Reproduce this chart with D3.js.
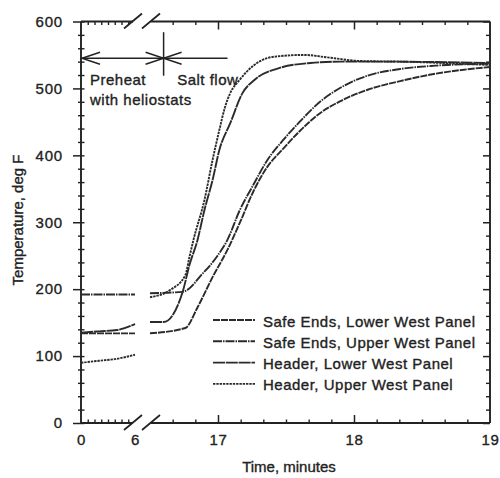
<!DOCTYPE html>
<html>
<head>
<meta charset="utf-8">
<script src="https://cdn.jsdelivr.net/npm/d3@7"></script>
<style>
  body { margin: 0; background: #fff; }
  svg text { font-family: "Liberation Sans", Arial, Helvetica, sans-serif; fill: #222; stroke: #222; stroke-width: 0.35px; }
</style>
</head>
<body>
<svg id="chart"></svg>
<script>
// Series names (legend order)
const seriesNames = [
  "Safe Ends, Lower West Panel",
  "Safe Ends, Upper West Panel",
  "Header, Lower West Panel",
  "Header, Upper West Panel"
];

// Preheat part (minutes 0-6)
const preheatTime = [0, 2, 4, 6];
const safeEndsLowerPre = [134, 134, 134, 134];
const safeEndsUpperPre = [192, 192, 192, 192];
const headerLowerPre = [135, 137, 139, 148];
const headerUpperPre = [90, 93, 96, 102];

// Salt flow part (minutes 16.5-19)
const safeEndsLowerTime = [16.5, 16.76, 16.85, 16.96, 17.07, 17.16, 17.26, 17.36, 17.48, 17.6, 17.75, 17.9, 18.1, 18.34, 18.6, 19];
const safeEndsLowerSalt = [134, 142, 173, 218, 259, 299, 346, 382, 410, 436, 463, 481, 498, 511, 522, 532];

const safeEndsUpperTime = [16.5, 16.74, 16.89, 16.99, 17.07, 17.16, 17.26, 17.36, 17.48, 17.6, 17.75, 17.9, 18.1, 18.34, 18.6, 19];
const safeEndsUpperSalt = [194, 196, 224, 248, 274, 318, 356, 392, 423, 450, 480, 501, 519, 529, 534, 537];

const headerLowerTime = [16.5, 16.6, 16.74, 16.79, 16.85, 16.9, 16.96, 17.01, 17.09, 17.18, 17.27, 17.46, 17.68, 17.9, 18.26, 19];
const headerLowerSalt = [151, 151, 196, 236, 274, 318, 363, 408, 448, 493, 513, 531, 538, 540, 540, 538];

const headerUpperTime = [16.5, 16.65, 16.76, 16.79, 16.82, 16.9, 16.96, 17.01, 17.05, 17.09, 17.16, 17.26, 17.4, 17.63, 17.82, 18.04, 18.34, 19];
const headerUpperSalt = [188, 199, 221, 248, 274, 333, 393, 438, 471, 493, 513, 534, 547, 550, 546, 541, 540, 535];

// Tick labels
const xTickLabels = [0, 6, 17, 18, 19];
const yTickLabels = [0, 100, 200, 300, 400, 500, 600];

// Dimensions
const width = 500;
const height = 478;
const margin = { top: 21.5, right: 10, bottom: 55, left: 81 };
const innerBottom = height - margin.bottom; // 423
const innerRight = width - margin.right;    // 490

const svg = d3.select("#chart")
  .attr("width", width)
  .attr("height", height);

// Broken time axis: 0-6 then 16.5-19
const x = d3.scaleLinear()
  .domain([0, 6, 16.5, 19])
  .range([margin.left, 135, 150, innerRight]);

const y = d3.scaleLinear()
  .domain([0, 600])
  .range([innerBottom, margin.top]);

const ink = "#222";
const font = "Liberation Sans, Arial, Helvetica, sans-serif";

// Minor tick values
const xMinorLeft = d3.range(0.75, 5.5, 0.75);
const xMinorRight = d3.range(0, 16).map(i => 16.5 + i / 6).filter(t => t > 16.55 && Math.abs(t - 17) > 0.01 && Math.abs(t - 18) > 0.01 && t < 18.95);
const xMajor = [17, 18];
const yMinor = d3.range(20, 600, 20).filter(v => v % 100 !== 0);
const yMajor = yTickLabels;

function styleTicks(g, w) {
  g.select(".domain").remove();
  g.selectAll(".tick line").attr("stroke", ink).attr("stroke-width", w);
  g.selectAll("text").remove();
}

// Bottom ticks (pointing up)
svg.append("g").attr("transform", `translate(0,${innerBottom})`)
  .call(d3.axisBottom(x).tickValues(xMinorLeft.concat(xMinorRight)).tickSize(-3.5))
  .call(g => styleTicks(g, 1.4));
svg.append("g").attr("transform", `translate(0,${innerBottom})`)
  .call(d3.axisBottom(x).tickValues(xMajor).tickSize(-8))
  .call(g => styleTicks(g, 1.5));

// Top ticks (pointing down)
svg.append("g").attr("transform", `translate(0,${margin.top})`)
  .call(d3.axisTop(x).tickValues(xMinorLeft.concat(xMinorRight)).tickSize(-3.5))
  .call(g => styleTicks(g, 1.4));
svg.append("g").attr("transform", `translate(0,${margin.top})`)
  .call(d3.axisTop(x).tickValues(xMajor).tickSize(-8))
  .call(g => styleTicks(g, 1.5));

// Left ticks
svg.append("g").attr("transform", `translate(${margin.left},0)`)
  .call(d3.axisLeft(y).tickValues(yMinor).tickSize(3))
  .call(g => styleTicks(g, 1.4));
svg.append("g").attr("transform", `translate(${margin.left},0)`)
  .call(d3.axisRight(y).tickValues(yMinor.concat(yMajor)).tickSize(3.5))
  .call(g => styleTicks(g, 1.4));
svg.append("g").attr("transform", `translate(${margin.left},0)`)
  .call(d3.axisLeft(y).tickValues(yMajor).tickSize(8))
  .call(g => styleTicks(g, 1.5));

// Right ticks (pointing in)
svg.append("g").attr("transform", `translate(${innerRight},0)`)
  .call(d3.axisLeft(y).tickValues(yMinor).tickSize(4))
  .call(g => styleTicks(g, 1.4));
svg.append("g").attr("transform", `translate(${innerRight},0)`)
  .call(d3.axisLeft(y).tickValues(yMajor).tickSize(7))
  .call(g => styleTicks(g, 1.5));

// Frame with breaks
const breakL = x(6) - 2;
const breakR = x(16.5) + 1;
const frame = svg.append("g").attr("stroke", ink).attr("stroke-width", 1.9).attr("fill", "none");
[innerBottom, margin.top].forEach(yy => {
  frame.append("line").attr("x1", x(0)).attr("x2", breakL).attr("y1", yy).attr("y2", yy);
  frame.append("line").attr("x1", breakR).attr("x2", x(19)).attr("y1", yy).attr("y2", yy);
  [breakL, breakR].forEach(bx => {
    frame.append("line")
      .attr("x1", bx - 9).attr("y1", yy + 7)
      .attr("x2", bx + 9).attr("y2", yy - 8)
      .attr("stroke-width", 1.7);
  });
});
frame.append("line").attr("x1", x(0)).attr("x2", x(0)).attr("y1", y(0)).attr("y2", y(600));
frame.append("line").attr("x1", x(19)).attr("x2", x(19)).attr("y1", y(0)).attr("y2", y(600));

// Tick labels
svg.append("g").attr("transform", `translate(0,${innerBottom})`)
  .call(d3.axisBottom(x).tickValues(xTickLabels).tickSize(0).tickPadding(11).tickFormat(d3.format("d")))
  .call(g => g.select(".domain").remove())
  .call(g => g.selectAll("text").attr("font-size", 15).attr("font-family", font).attr("fill", ink).attr("letter-spacing", 0.6));

svg.append("g").attr("transform", `translate(${margin.left},0)`)
  .call(d3.axisLeft(y).tickValues(yTickLabels).tickSize(0).tickPadding(18))
  .call(g => g.select(".domain").remove())
  .call(g => g.selectAll("text").attr("font-size", 15).attr("font-family", font).attr("fill", ink).attr("letter-spacing", 0.8));

// Axis titles
svg.append("text")
  .attr("x", 289).attr("y", 472)
  .attr("text-anchor", "middle")
  .attr("font-size", 15)
  .text("Time, minutes");

svg.append("text")
  .attr("transform", "translate(23,220) rotate(-90)")
  .attr("text-anchor", "middle")
  .attr("font-size", 15)
  .text("Temperature, deg F");

// Annotation: preheat / salt flow arrows
const arrowT = 545;
const splitTime = 16.6;
const ann = svg.append("g").attr("stroke", ink).attr("stroke-width", 1.5).attr("fill", "none");
ann.append("line").attr("x1", x(0) + 1).attr("x2", x(17.07)).attr("y1", y(arrowT)).attr("y2", y(arrowT));
ann.append("line").attr("x1", x(splitTime)).attr("x2", x(splitTime)).attr("y1", y(584)).attr("y2", y(519));
function chevron(tipX, dir) {
  const ay = y(arrowT);
  ann.append("polyline")
    .attr("points", `${tipX + dir * 18},${ay - 6} ${tipX},${ay} ${tipX + dir * 18},${ay + 6}`);
}
chevron(x(0) + 1, 1);
chevron(x(splitTime), -1);
chevron(x(splitTime), 1);

const annText = svg.append("g").attr("font-size", 15).attr("letter-spacing", 0.5);
annText.append("text").attr("x", x(1)).attr("y", y(505)).text("Preheat");
annText.append("text").attr("x", x(1)).attr("y", y(475)).text("with heliostats");
annText.append("text").attr("x", x(16.7)).attr("y", y(505)).text("Salt flow");

// Series
const dashes = ["7,1", "9,1,1.5,1", "12,0.8", "2.4,0.9"];
const series = [
  { name: seriesNames[0], parts: [d3.zip(preheatTime, safeEndsLowerPre), d3.zip(safeEndsLowerTime, safeEndsLowerSalt)] },
  { name: seriesNames[1], parts: [d3.zip(preheatTime, safeEndsUpperPre), d3.zip(safeEndsUpperTime, safeEndsUpperSalt)] },
  { name: seriesNames[2], parts: [d3.zip(preheatTime, headerLowerPre), d3.zip(headerLowerTime, headerLowerSalt)] },
  { name: seriesNames[3], parts: [d3.zip(preheatTime, headerUpperPre), d3.zip(headerUpperTime, headerUpperSalt)] }
];

const line = d3.line()
  .x(d => x(d[0]))
  .y(d => y(d[1]))
  .curve(d3.curveMonotoneX);

const lines = svg.append("g").attr("fill", "none");
series.forEach((s, i) => {
  s.parts.forEach(part => {
    lines.append("path")
      .attr("d", line(part))
      .attr("stroke", "#2b2b2b")
      .attr("stroke-width", 1.9)
      .attr("stroke-dasharray", dashes[i]);
  });
});

// Legend
const legend = svg.append("g").attr("transform", "translate(213,320)");
seriesNames.forEach((name, i) => {
  const row = legend.append("g").attr("transform", `translate(0,${i * 21.3})`);
  row.append("line")
    .attr("x1", 0).attr("x2", 42).attr("y1", 0).attr("y2", 0)
    .attr("stroke", "#2b2b2b")
    .attr("stroke-width", 1.9)
    .attr("stroke-dasharray", dashes[i]);
  row.append("text")
    .attr("x", 50).attr("y", 6.5)
    .attr("font-size", 15)
    .attr("letter-spacing", 0.5)
    .text(name);
});
</script>
</body>
</html>
